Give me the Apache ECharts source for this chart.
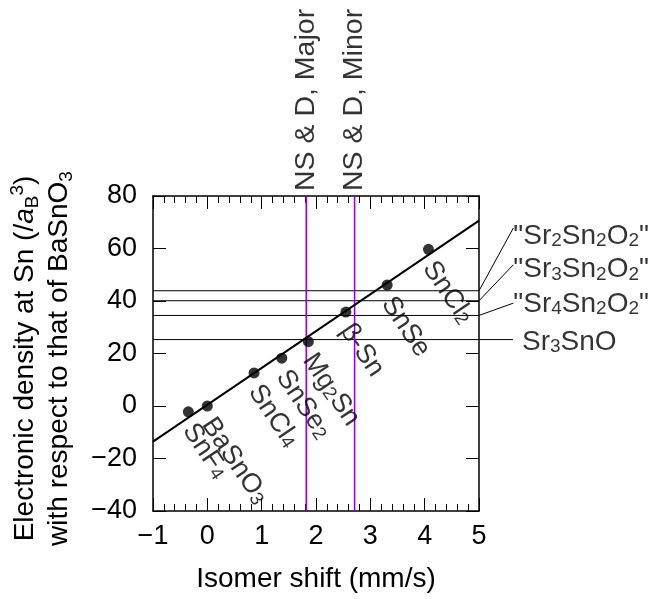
<!DOCTYPE html>
<html>
<head>
<meta charset="utf-8">
<script src="https://cdn.jsdelivr.net/npm/echarts@6/dist/echarts.min.js"></script>
<style>html,body{margin:0;padding:0;background:#fff;}#c{width:654px;height:599px;}</style>
</head>
<body>
<div id="c"></div>
<script>
// ---- data ----
const compounds = ['SnF4', 'BaSnO3', 'SnCl4', 'SnSe2', 'Mg2Sn', 'β-Sn', 'SnSe', 'SnCl2'];
const isomerShift = [-0.35, 0, 0.86, 1.37, 1.86, 2.55, 3.31, 4.07];
const density = [-2.2, 0, 12.6, 18.2, 24.5, 35.8, 46.1, 59.7];
const fitX = [-1, 5];
const fitY = [-13.6, 70.6];
const phases = ['"Sr2Sn2O2"', '"Sr3Sn2O2"', '"Sr4Sn2O2"', 'Sr3SnO'];
const phaseDensity = [43.9, 40.1, 34.5, 25.3];
const phaseLabelX = [5.632, 5.632, 5.632, 5.626];
const phaseLabelY = [67.8, 53.8, 39.2, 25.3];
const nsdLabels = ['NS & D, Major', 'NS & D, Minor'];
const nsdShift = [1.82, 2.71];
const xMin = -1, xMax = 5, xStep = 1;
const yMin = -40, yMax = 80, yStep = 20;

// ---- helpers ----
const FONT = 'Liberation Sans, Arial, Helvetica, sans-serif';
function richify(s) {
  return s.replace(/(\d)/g, '{sub|$1}');
}
function subStyles(L, fs, subFs, shift) {
  const h = L - 2 * shift;
  return {
    sub: {fontSize: subFs, fontFamily: FONT, color: '#000', lineHeight: h, verticalAlign: 'bottom'},
    sup: {fontSize: subFs, fontFamily: FONT, color: '#000', lineHeight: h, verticalAlign: 'top'},
    it: {fontSize: fs, fontFamily: FONT, fontStyle: 'italic', color: '#000', lineHeight: L},
    m: {fontSize: fs, fontFamily: FONT, color: '#000', lineHeight: L}
  };
}
const minusFmt = v => (v < 0 ? '\u2212' + (-v) : String(v));

const chart = echarts.init(document.getElementById('c'), null, {renderer: 'canvas'});

const axisLineStyle = {color: '#000', width: 1.5};
const tickStyle = {color: '#000', width: 1};

function xAx(pos, showLabel) {
  return {
    type: 'value', min: xMin, max: xMax, interval: xStep, position: pos,
    axisLine: {show: true, onZero: false, lineStyle: axisLineStyle},
    axisTick: {show: true, inside: true, length: 13, lineStyle: tickStyle},
    minorTick: {show: true, splitNumber: 5, length: 7, lineStyle: tickStyle},
    splitLine: {show: false},
    axisLabel: {show: showLabel, fontSize: 27, fontFamily: FONT, color: '#000', margin: 12, formatter: minusFmt},
    name: showLabel ? 'Isomer shift (mm/s)' : '',
    nameLocation: 'middle', nameGap: 54,
    nameTextStyle: {fontSize: 28, fontFamily: FONT, color: '#000'}
  };
}
function yAx(pos, showLabel) {
  return {
    type: 'value', min: yMin, max: yMax, interval: yStep, position: pos,
    axisLine: {show: true, onZero: false, lineStyle: axisLineStyle},
    axisTick: {show: true, inside: true, length: 13, lineStyle: tickStyle},
    minorTick: {show: false},
    splitLine: {show: false},
    axisLabel: {show: showLabel, fontSize: 27, fontFamily: FONT, color: '#000', margin: 16, formatter: minusFmt},
    name: showLabel ? '{m|Electronic density at Sn (/}{it|a}{sub|B}{sup|3}{m|)}\n{m|with respect to that of BaSnO}{sub|3}' : '',
    nameLocation: 'middle', nameRotate: 90, nameGap: 77,
    nameTextStyle: {fontSize: 28, fontFamily: FONT, color: '#000', lineHeight: 34, padding: [0, 10, 0, 0], rich: subStyles(34, 28, 19, 9)}
  };
}

const series = [];
// regression line
series.push({
  type: 'line', data: fitX.map((x, i) => [x, fitY[i]]),
  showSymbol: false, symbol: 'none', lineStyle: {color: '#000', width: 2}, silent: true, z: 3
});
// phase reference lines with leaders (custom, unclipped)
series.push({
  type: 'custom', clip: false, silent: true, z: 2,
  data: phases.map((p, i) => [phaseDensity[i], phaseLabelX[i], phaseLabelY[i]]),
  encode: {x: 1, y: 0},
  renderItem: function (params, api) {
    const y = api.value(0), lx = api.value(1), ly = api.value(2);
    const pts = [api.coord([xMin, y])];
    if (ly !== y) pts.push(api.coord([xMax, y]));
    pts.push(api.coord([lx, ly]));
    return {
      type: 'polyline', shape: {points: pts},
      style: {stroke: '#000', lineWidth: 1, fill: null}
    };
  }
});
// NS & D vertical lines
nsdShift.forEach((x) => {
  series.push({
    type: 'line', data: [[x, yMin], [x, yMax]], showSymbol: false, symbol: 'none',
    lineStyle: {color: '#9400D3', width: 1.5}, silent: true, z: 2
  });
});
// external labels (phases)
series.push({
  type: 'scatter', clip: false, symbolSize: 1, itemStyle: {color: 'rgba(0,0,0,0)'}, silent: true, z: 5,
  data: phases.map((p, i) => ({
    value: [phaseLabelX[i], phaseLabelY[i]], name: p,
    label: {
      show: true, position: 'inside', align: 'left', verticalAlign: 'middle',
      offset: i === 3 ? [9, 3] : [0, i === 0 ? 8 : (i === 1 ? 5 : 1)],
      formatter: q => richify(q.name), fontSize: 28, fontFamily: FONT, color: '#000', lineHeight: 28,
      rich: subStyles(28, 28, 19, 9)
    }
  }))
});
// NS & D labels
series.push({
  type: 'scatter', clip: false, symbolSize: 1, itemStyle: {color: 'rgba(0,0,0,0)'}, silent: true, z: 5,
  data: nsdShift.map((x, i) => ({
    value: [x, yMax], name: nsdLabels[i],
    label: {
      show: true, position: 'inside', align: 'left', verticalAlign: 'middle', rotate: 90,
      offset: [5, 0], formatter: q => q.name, fontSize: 28.5, fontFamily: FONT, color: '#000'
    }
  }))
});
// data points with rotated labels
series.push({
  type: 'scatter', symbol: 'circle', symbolSize: 11, itemStyle: {color: '#000'}, z: 6,
  data: compounds.map((c, i) => ({value: [isomerShift[i], density[i]], name: c})),
  label: {
    show: true, position: 'inside', align: 'left', verticalAlign: 'middle', rotate: -56,
    offset: [12, 8], formatter: q => richify(q.name),
    fontSize: 27, fontFamily: FONT, color: '#000', lineHeight: 27,
    rich: subStyles(27, 27, 19, 9)
  }
});

chart.setOption({
  animation: false,
  backgroundColor: '#fff',
  grid: {left: 153, right: 175, top: 196, bottom: 88, containLabel: false, outerBoundsMode: 'none'},
  xAxis: [xAx('bottom', true), xAx('top', false)],
  yAxis: [yAx('left', true), yAx('right', false)],
  series: series
});
</script>
</body>
</html>
